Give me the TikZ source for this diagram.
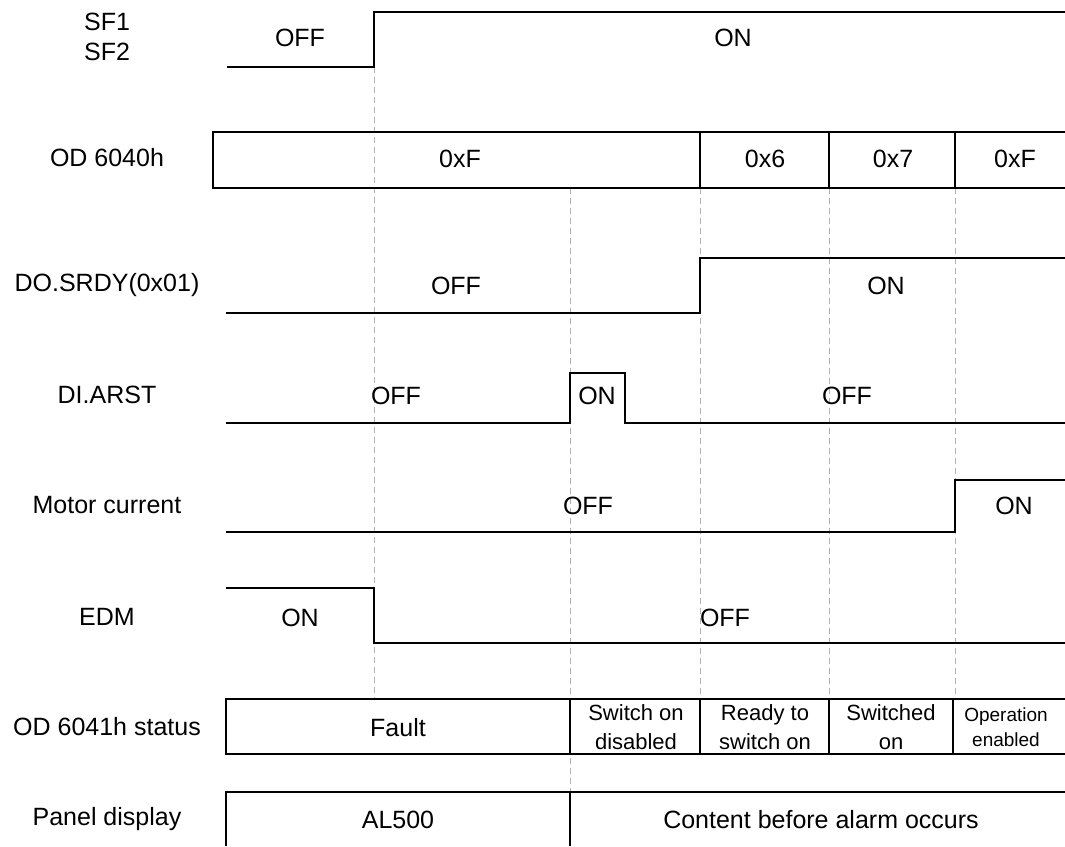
\documentclass[tikz,border=0pt]{standalone}
\usepackage{fontspec}
\setmainfont{Liberation Sans}
\begin{document}
\begin{tikzpicture}[x=1pt,y=-1pt,
  sig/.style={line width=1.4pt, black},
  boxline/.style={line width=1.6pt, black},
  guide/.style={black!30, dash pattern=on 6pt off 4pt, line width=1pt},
  lbl/.style={font=\fontsize{25}{30}\selectfont, inner sep=0pt, align=center},
  val/.style={font=\fontsize{25}{30}\selectfont, inner sep=0pt, text height=18pt, text depth=0pt},
  st/.style={font=\fontsize{22}{29}\selectfont, inner sep=0pt, align=center},
  stsmall/.style={font=\fontsize{19}{25}\selectfont, inner sep=0pt, align=center}
]
\useasboundingbox (0,0) rectangle (1065,846);

% guide lines
\draw[guide] (374,67) -- (374,699);
\draw[guide] (570,188) -- (570,792);
\draw[guide] (700,188) -- (700,699);
\draw[guide] (829,188) -- (829,699);
\draw[guide] (955,188) -- (955,699);

% row labels
\node[lbl] (lsf)   at (107,37)  {SF1\\SF2};
\node[lbl] (lod40) at (107,158) {OD 6040h};
\node[lbl] (lsrdy) at (107,285) {DO.SRDY(0x01)};
\node[lbl] (larst) at (107,395) {DI.ARST};
\node[lbl] (lmot)  at (107,505) {Motor current};
\node[lbl] (ledm)  at (107,617) {EDM};
\node[lbl] (lod41) at (107,727) {OD 6041h status};
\node[lbl] (lpan)  at (107,819) {Panel display};

% SF1/SF2
\draw[sig] (227,67) -- (374,67) -- (374,12) -- (1065,12);
\node[val] (sfoff) at (300,37) {OFF};
\node[val] (sfon)  at (733,37) {ON};

% OD 6040h
\draw[boxline] (1065,132) -- (213,132) -- (213,188) -- (1065,188);
\draw[boxline] (700,132) -- (700,188);
\draw[boxline] (829,132) -- (829,188);
\draw[boxline] (955,132) -- (955,188);
\node[val] (c1) at (460,158)  {0xF};
\node[val] (c2) at (765,158)  {0x6};
\node[val] (c3) at (893,158)  {0x7};
\node[val] (c4) at (1015,158) {0xF};

% DO.SRDY
\draw[sig] (226,313) -- (700,313) -- (700,258) -- (1065,258);
\node[val] (srdyoff) at (456,285) {OFF};
\node[val] (srdyon)  at (886,285) {ON};

% DI.ARST
\draw[sig] (226,423) -- (570,423) -- (570,373) -- (625,373) -- (625,423) -- (1065,423);
\node[val] (arstoff1) at (396,395) {OFF};
\node[val] (arston)   at (597,395) {ON};
\node[val] (arstoff2) at (847,395) {OFF};

% Motor current
\draw[sig] (226,532) -- (955,532) -- (955,480) -- (1065,480);
\node[val] (motoff) at (588,505)  {OFF};
\node[val] (moton)  at (1014,505) {ON};

% EDM
\draw[sig] (226,588) -- (374,588) -- (374,643) -- (1065,643);
\node[val] (edmon)  at (300,617) {ON};
\node[val] (edmoff) at (725,617) {OFF};

% OD 6041h status
\draw[boxline] (1065,699) -- (226,699) -- (226,754) -- (1065,754);
\draw[boxline] (570,699) -- (570,754);
\draw[boxline] (700,699) -- (700,754);
\draw[boxline] (829,699) -- (829,754);
\draw[boxline] (953,699) -- (953,754);
\node[val] (sfault) at (398,727) {Fault};
\node[st] (s2) at (636,727) {Switch on\\disabled};
\node[st] (s3) at (765,727) {Ready to\\switch on};
\node[st] (s4) at (891,727) {Switched\\on};
\node[stsmall] (s5) at (1006,727) {Operation\\enabled};

% Panel display
\draw[boxline] (226,846) -- (226,792) -- (1065,792);
\draw[boxline] (570,792) -- (570,846);
\node[val] (pal) at (398,819) {AL500};
\node[val] (pcont) at (821,819) {Content before alarm occurs};
\end{tikzpicture}
\end{document}
